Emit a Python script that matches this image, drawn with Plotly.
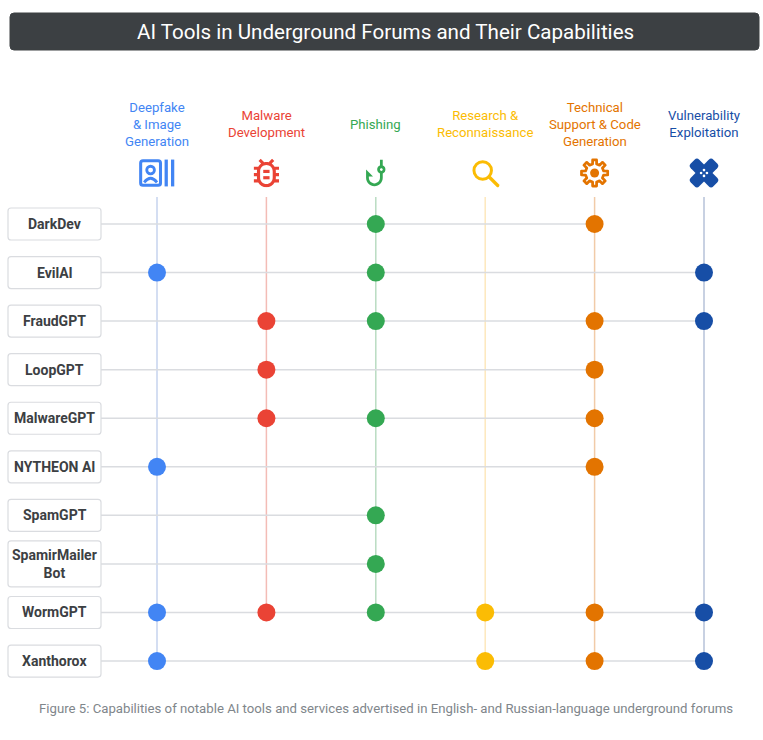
import base64
import math
import plotly.graph_objects as go

# columns (capabilities) and their colours
capabilities = [
    "Deepfake<br>& Image<br>Generation",
    "Malware<br>Development",
    "Phishing",
    "Research &<br>Reconnaissance",
    "Technical<br>Support & Code<br>Generation",
    "Vulnerability<br>Exploitation",
]
cap_colors = ["#4285F4", "#EA4335", "#34A853", "#FBBC04", "#E37400", "#174EA6"]
cap_line_colors = ["#c6d3ee", "#f3bcb6", "#b9dcc2", "#fde8bd", "#f1cba8", "#b6c2d8"]

tools = [
    "DarkDev", "EvilAI", "FraudGPT", "LoopGPT", "MalwareGPT",
    "NYTHEON AI", "SpamGPT", "SpamirMailer<br>Bot", "WormGPT", "Xanthorox",
]

# 1 = capability advertised, order follows `capabilities`
matrix = [
    [0, 0, 1, 0, 1, 0],  # DarkDev
    [1, 0, 1, 0, 0, 1],  # EvilAI
    [0, 1, 1, 0, 1, 1],  # FraudGPT
    [0, 1, 0, 0, 1, 0],  # LoopGPT
    [0, 1, 1, 0, 1, 0],  # MalwareGPT
    [1, 0, 0, 0, 1, 0],  # NYTHEON AI
    [0, 0, 1, 0, 0, 0],  # SpamGPT
    [0, 0, 1, 0, 0, 0],  # SpamirMailer Bot
    [1, 1, 1, 1, 1, 1],  # WormGPT
    [1, 0, 0, 1, 1, 1],  # Xanthorox
]

W, H = 763, 740
COL_PX, ROW_PX = 109.4, 48.56   # pixel size of one x / y unit
X0_PX, Y0_PX = 157, 224         # pixel position of column 0 / row 0


def px_x(p):
    return (p - X0_PX) / COL_PX


def px_y(p):
    return (p - Y0_PX) / ROW_PX


def rounded_box(x0, x1, y0, y1, r=3):
    rx, ry = r / COL_PX, r / ROW_PX
    return (f"M{x0+rx},{y0} L{x1-rx},{y0} Q{x1},{y0} {x1},{y0+ry} "
            f"L{x1},{y1-ry} Q{x1},{y1} {x1-rx},{y1} L{x0+rx},{y1} "
            f"Q{x0},{y1} {x0},{y1-ry} L{x0},{y0+ry} Q{x0},{y0} {x0+rx},{y0} Z")


def svg_uri(body, vb="0 0 24 24"):
    svg = f'<svg xmlns="http://www.w3.org/2000/svg" viewBox="{vb}">{body}</svg>'
    return "data:image/svg+xml;base64," + base64.b64encode(svg.encode()).decode()


# gear outline
gear_pts = []
for i in range(8):
    a = i * math.pi / 4
    for da, rr in [(-0.22, 7.4), (-0.15, 10.6), (0.15, 10.6), (0.22, 7.4)]:
        gear_pts.append(f"{12 + rr*math.cos(a+da):.2f},{12 + rr*math.sin(a+da):.2f}")
gear_path = "M" + " L".join(gear_pts) + " Z"

icons = [
    svg_uri(
        '<rect x="1.5" y="1.5" width="17" height="21" rx="2" fill="none" stroke="#4285F4" stroke-width="2.6"/>'
        '<circle cx="10" cy="9.5" r="3.3" fill="none" stroke="#4285F4" stroke-width="2.4"/>'
        '<path d="M4.5 20 Q10 13 15.5 20" fill="none" stroke="#4285F4" stroke-width="2.4"/>'
        '<rect x="22" y="0.5" width="2.8" height="23" fill="#4285F4"/>'
        '<rect x="27.5" y="0.5" width="2.8" height="23" fill="#4285F4"/>',
        vb="0 0 31 24"),
    svg_uri(
        '<path fill="#EA4335" fill-rule="evenodd" d="M20 8h-2.81c-.45-.78-1.07-1.450-1.82-1.96L17 4.41 15.59 3l-2.17 2.17C12.96 5.06 12.49 5 12 5s-.96.06-1.41.17L8.41 3 7 4.41l1.62 1.63C7.88 6.55 7.26 7.22 6.81 8H4v2h2.09c-.05.33-.09.66-.09 1v1H4v2h2v1c0 .34.04.67.09 1H4v2h2.81c1.04 1.79 2.97 3 5.19 3s4.15-1.21 5.19-3H20v-2h-2.09c.05-.33.09-.66.09-1v-1h2v-2h-2v-1c0-.34-.04-.67-.09-1H20V8zm-4 7c0 2.21-1.79 4-4 4s-4-1.79-4-4v-4c0-2.21 1.79-4 4-4s4 1.79 4 4v4z"/>'
        '<rect x="10" y="10" width="4" height="2" fill="#EA4335"/><rect x="10" y="14" width="4" height="2" fill="#EA4335"/>',
        vb="3.8 2.8 16.4 18.4"),
    svg_uri(
        '<path fill="#34A853" d="M19 9c0-1.3-.84-2.4-2-2.82V2h-2v4.18C13.84 6.6 13 7.7 13 9s.84 2.4 2 2.82V15c0 2.21-1.79 4-4 4s-4-1.79-4-4v-1h3L5 9v6c0 3.31 2.69 6 6 6s6-2.69 6-6v-3.18c1.16-.41 2-1.51 2-2.82zm-3 1c-.55 0-1-.45-1-1s.45-1 1-1 1 .45 1 1-.45 1-1 1z"/>',
        vb="4.8 1.8 14.4 19.4"),
    svg_uri(
        '<circle cx="10" cy="10" r="7" fill="none" stroke="#FBBC04" stroke-width="2.4"/>'
        '<path d="M15 15 L22 22" stroke="#FBBC04" stroke-width="2.6" stroke-linecap="round"/>'),
    svg_uri(
        f'<path d="{gear_path}" fill="none" stroke="#E37400" stroke-width="2.2" stroke-linejoin="round"/>'
        '<circle cx="12" cy="12" r="3.6" fill="#E37400"/>'),
    svg_uri(
        '<rect x="7.5" y="0" width="9" height="24" rx="2.5" fill="#174EA6" transform="rotate(45 12 12)"/>'
        '<rect x="7.5" y="0" width="9" height="24" rx="2.5" fill="#174EA6" transform="rotate(-45 12 12)"/>'
        '<circle cx="12" cy="9.8" r="1" fill="white"/><circle cx="12" cy="14.2" r="1" fill="white"/>'
        '<circle cx="9.8" cy="12" r="1" fill="white"/><circle cx="14.2" cy="12" r="1" fill="white"/>'),
]
icon_px = [(40, 28), (26, 29), (20, 28), (30, 30), (30, 30), (32, 32)]

fig = go.Figure()

box_x0, box_x1 = px_x(8), px_x(101)
line_top = px_y(197)

# vertical column lines, down to the last tool that has the capability
for c in range(len(capabilities)):
    last = max(r for r in range(len(tools)) if matrix[r][c])
    fig.add_trace(go.Scatter(
        x=[c, c], y=[line_top, last], mode="lines",
        line=dict(color=cap_line_colors[c], width=1.5), hoverinfo="skip"))

# horizontal tool lines, out to the last capability of each tool
for r in range(len(tools)):
    last = max(c for c in range(len(capabilities)) if matrix[r][c])
    fig.add_trace(go.Scatter(
        x=[box_x1, last], y=[r, r], mode="lines",
        line=dict(color="#dadce0", width=1.5), hoverinfo="skip"))

# dots
for c in range(len(capabilities)):
    rows = [r for r in range(len(tools)) if matrix[r][c]]
    fig.add_trace(go.Scatter(
        x=[c] * len(rows), y=rows, mode="markers",
        marker=dict(size=18, color=cap_colors[c]),
        hovertext=[tools[r].replace("<br>", " ") for r in rows],
        hoverinfo="text", name=capabilities[c].replace("<br>", " ")))

shapes = []
annotations = []

# tool label boxes
for r, name in enumerate(tools):
    half = (23 if "<br>" in name else 16) / ROW_PX
    shapes.append(dict(type="path", xref="x", yref="y",
                       path=rounded_box(box_x0, box_x1, r - half, r + half),
                       line=dict(color="#dadce0", width=1.2), fillcolor="white"))
    annotations.append(dict(x=(box_x0 + box_x1) / 2, y=r, xref="x", yref="y",
                            text=f"<b>{name}</b>", showarrow=False,
                            font=dict(size=14, color="#3c4043")))

# column headers and icons
images = []
for c, label in enumerate(capabilities):
    annotations.append(dict(x=c, y=px_y(124), xref="x", yref="y", text=label,
                            showarrow=False, xanchor="center", yanchor="middle",
                            font=dict(size=13.2, color=cap_colors[c])))
    iw, ih = icon_px[c]
    images.append(dict(source=icons[c], xref="x", yref="y", x=c, y=px_y(173),
                       sizex=iw / COL_PX, sizey=ih / ROW_PX, sizing="contain",
                       xanchor="center", yanchor="middle", layer="above"))

# title bar
shapes.append(dict(type="path", xref="x", yref="y",
                   path=rounded_box(px_x(10), px_x(759), px_y(13), px_y(50), r=4),
                   line=dict(color="#3c4043", width=1), fillcolor="#3c4043"))
annotations.append(dict(x=385.5 / W, y=1 - 32 / H, xref="paper", yref="paper",
                        xanchor="center", yanchor="middle",
                        text="AI Tools in Underground Forums and Their Capabilities",
                        showarrow=False, font=dict(size=20.6, color="white")))

# caption
annotations.append(dict(x=386 / W, y=1 - 708 / H, xref="paper", yref="paper",
                        xanchor="center", yanchor="middle",
                        text="Figure 5: Capabilities of notable AI tools and services advertised in English- and Russian-language underground forums",
                        showarrow=False, font=dict(size=13.2, color="#80868b")))

fig.update_layout(
    width=W, height=H,
    margin=dict(l=0, r=0, t=0, b=0),
    paper_bgcolor="white", plot_bgcolor="white",
    font=dict(family="Roboto, sans-serif"),
    showlegend=False,
    xaxis=dict(range=[px_x(0), px_x(W)], visible=False, fixedrange=True),
    yaxis=dict(range=[px_y(H), px_y(0)], visible=False, fixedrange=True),
    shapes=shapes, annotations=annotations, images=images,
)

# page has a default 8px body margin; drop it so the figure sits at 0,0
fig.write_html("out.html", config={"displayModeBar": False},
               post_script="document.body.style.margin='0';")
